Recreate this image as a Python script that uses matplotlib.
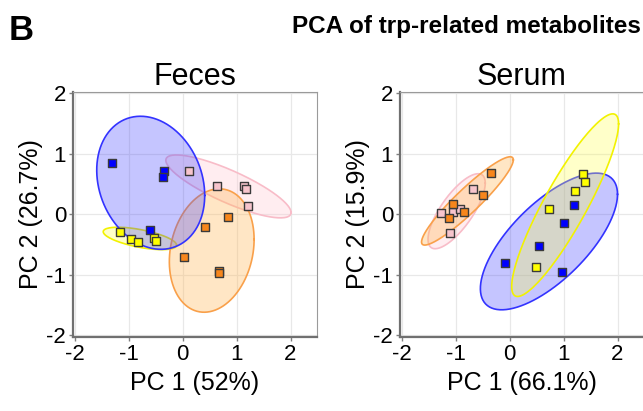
import numpy as np
import matplotlib
matplotlib.use("Agg")
import matplotlib.pyplot as plt

plt.rcParams['font.family'] = ['Liberation Sans', 'DejaVu Sans']
plt.rcParams['axes.unicode_minus'] = False

groups = ['blue', 'pink', 'orange', 'yellow']
face = {'blue': '#0000ff', 'pink': '#f7c4cc', 'orange': '#f7861c', 'yellow': '#ffff00'}
edge = {'blue': '#3333ff', 'pink': '#f8bcc8', 'orange': '#f9a04a', 'yellow': '#f2f200'}
fill = {'blue': (0.25, 0.25, 1.0, 0.30), 'pink': (1.0, 0.80, 0.84, 0.35),
        'orange': (1.0, 0.72, 0.35, 0.35), 'yellow': (1.0, 1.0, 0.3, 0.30)}

# Feces scores
feces_x = {'blue': [-1.30, -0.35, -0.36, -0.61],
           'pink': [0.12, 0.64, 1.14, 1.18, 1.22],
           'orange': [0.85, 0.41, 0.02, 0.67, 0.68],
           'yellow': [-1.15, -0.96, -0.82, -0.53, -0.49]}
feces_y = {'blue': [0.85, 0.71, 0.62, -0.26],
           'pink': [0.72, 0.46, 0.46, 0.41, 0.13],
           'orange': [-0.04, -0.21, -0.71, -0.94, -0.97],
           'yellow': [-0.29, -0.41, -0.46, -0.40, -0.44]}
# ellipses: centre x, centre y, half-span x, half-span y, correlation
feces_ell = {'blue': (-0.59, 0.52, 1.00, 1.10, -0.19),
             'pink': (0.85, 0.46, 1.16, 0.52, -0.83),
             'orange': (0.54, -0.60, 0.785, 1.02, 0.18),
             'yellow': (-0.79, -0.40, 0.68, 0.185, -0.6)}

# Serum scores
serum_x = {'blue': [1.20, 1.01, 0.55, -0.09, 0.97],
           'pink': [-0.67, -1.27, -1.05, -0.92, -1.10],
           'orange': [-0.34, -0.50, -1.05, -0.85, -1.13],
           'yellow': [1.36, 1.39, 1.21, 0.73, 0.49]}
serum_y = {'blue': [0.16, -0.14, -0.53, -0.80, -0.96],
           'pink': [0.41, 0.02, 0.04, 0.09, -0.31],
           'orange': [0.69, 0.31, 0.17, 0.04, -0.07],
           'yellow': [0.66, 0.53, 0.39, 0.09, -0.87]}
serum_ell = {'blue': (0.73, -0.45, 1.27, 1.13, 0.69),
             'pink': (-0.98, 0.05, 0.53, 0.62, 0.75),
             'orange': (-0.78, 0.22, 0.85, 0.73, 0.93),
             'yellow': (1.03, 0.15, 0.99, 1.51, 0.89)}

ticks = [-2, -1, 0, 1, 2]


def ellipse(ax, cx, cy, hx, hy, r, g):
    t = np.linspace(0, 2 * np.pi, 200)
    ex = cx + hx * np.cos(t)
    ey = cy + hy * (r * np.cos(t) + np.sqrt(1 - r * r) * np.sin(t))
    ax.fill(ex, ey, color=fill[g], lw=0, zorder=2)
    ax.plot(ex, ey, color=edge[g], lw=1.2, zorder=2)


def panel(ax, xs, ys, ells, title, xlab, ylab, order):
    for g in order:
        ellipse(ax, *ells[g], g)
    for g in groups:
        ax.scatter(xs[g], ys[g], marker='s', s=34, c=face[g],
                   edgecolors='#3a3a3a', linewidths=1.0, zorder=3)
    ax.set_xlim(-2.03, 2.49)
    ax.set_ylim(-2.03, 2.02)
    ax.set_xticks(ticks)
    ax.set_yticks(ticks)
    ax.grid(color='#e8e8e8', lw=0.9)
    ax.set_axisbelow(True)
    for s in ['top', 'right']:
        ax.spines[s].set_color('#9a9a9a')
        ax.spines[s].set_linewidth(0.8)
    for s in ['left', 'bottom']:
        ax.spines[s].set_color('#707070')
        ax.spines[s].set_linewidth(1.6)
    ax.tick_params(length=3, width=1, color='#808080', labelsize=16, pad=2)
    ax.set_title(title, fontsize=22, pad=5)
    ax.set_xlabel(xlab, fontsize=18, labelpad=4)
    ax.set_ylabel(ylab, fontsize=18, labelpad=2)


fig = plt.figure(figsize=(6.43, 4.11), dpi=100)
ax1 = fig.add_axes([0.1135, 0.180, 0.3795, 0.596])
ax2 = fig.add_axes([0.622, 0.180, 0.3795, 0.596])

panel(ax1, feces_x, feces_y, feces_ell, 'Feces', 'PC 1 (52%)', 'PC 2 (26.7%)',
      ['yellow', 'pink', 'orange', 'blue'])
panel(ax2, serum_x, serum_y, serum_ell, 'Serum', 'PC 1 (66.1%)', 'PC 2 (15.9%)',
      ['pink', 'orange', 'blue', 'yellow'])

fig.text(0.014, 0.927, 'B', fontsize=25, fontweight='bold', va='center')
fig.text(0.725, 0.935, 'PCA of trp-related metabolites', fontsize=17.5,
         fontweight='bold', ha='center', va='center')

fig.savefig('out.png', dpi=100)
